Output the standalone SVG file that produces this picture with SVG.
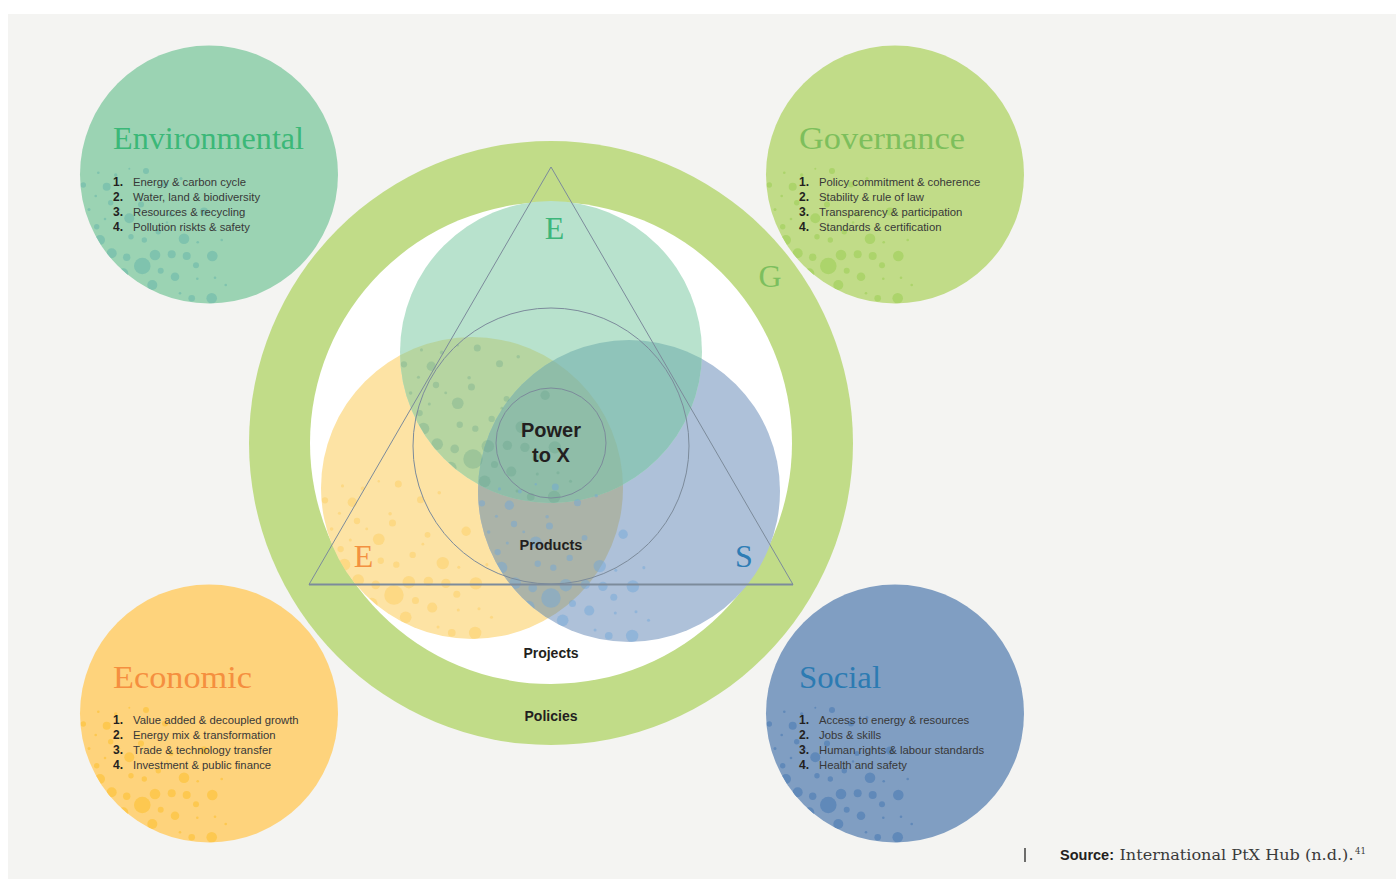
<svg xmlns="http://www.w3.org/2000/svg" xmlns:xlink="http://www.w3.org/1999/xlink" width="1396" height="879" viewBox="0 0 1396 879">
  <style>
    .title{font-family:"Liberation Serif","Times New Roman",serif;font-size:32px}
    .item{font-family:"Liberation Sans",Arial,sans-serif;font-size:11.3px;fill:#383838}
    .num{font-weight:bold;fill:#231f20;font-size:12px}
    .lbl{font-family:"Liberation Sans",Arial,sans-serif;font-weight:bold;fill:#231f20;text-anchor:middle}
    .letter{font-family:"Liberation Serif","Times New Roman",serif;font-size:32px;text-anchor:middle}
    .guide{fill:none;stroke:#7c8b9b;stroke-width:1}
  </style>
  <defs>
    <!-- bubble texture, laid out for a circle of radius 129 centred at the origin -->
    <g id="dots">
      <circle cx="-125.7" cy="10.5" r="2.7"/><circle cx="-102.3" cy="12.2" r="4"/>
      <circle cx="-110.7" cy="-1.8" r="1.3"/><circle cx="-79.7" cy="-5.8" r="1"/>
      <circle cx="-63" cy="-3.5" r="3"/><circle cx="-93.3" cy="0.5" r="1.7"/>
      <circle cx="-113.3" cy="21.5" r="1.3"/><circle cx="-98.3" cy="28.2" r="2.7"/>
      <circle cx="-79.7" cy="43.8" r="5"/><circle cx="-112.3" cy="52.2" r="2.7"/>
      <circle cx="-104" cy="44.5" r="1.3"/><circle cx="-109" cy="65.5" r="5"/>
      <circle cx="-78" cy="62.2" r="2.7"/><circle cx="-64.7" cy="65.5" r="2.7"/>
      <circle cx="-50.7" cy="57.2" r="2.7"/><circle cx="-25" cy="64.2" r="5.3"/>
      <circle cx="-11.3" cy="67.8" r="1.3"/><circle cx="12.7" cy="65.5" r="1.3"/>
      <circle cx="-97.3" cy="78.8" r="5"/><circle cx="-82.3" cy="82.8" r="3.7"/>
      <circle cx="-66.7" cy="91.5" r="8.3"/><circle cx="-54" cy="80.5" r="5.3"/>
      <circle cx="-37.3" cy="79.8" r="4"/><circle cx="-22.3" cy="81.5" r="4"/>
      <circle cx="3.3" cy="81.5" r="5.3"/><circle cx="-48.3" cy="96.2" r="3"/>
      <circle cx="-34" cy="102.2" r="4.3"/><circle cx="-13" cy="90.8" r="3"/>
      <circle cx="-85.7" cy="98.8" r="5"/><circle cx="-56.7" cy="110.5" r="5"/>
      <circle cx="-11.7" cy="104.2" r="1.3"/><circle cx="6" cy="103.2" r="1.3"/>
      <circle cx="16.7" cy="110.5" r="1.3"/><circle cx="-17.3" cy="123.8" r="3.3"/>
      <circle cx="2.7" cy="123.8" r="5.3"/><circle cx="-29" cy="118.8" r="1.3"/>
      <circle cx="-90" cy="35" r="1.2"/><circle cx="-70" cy="22" r="1.5"/>
      <circle cx="-42" cy="48" r="1.2"/><circle cx="-120" cy="35" r="1.5"/>
      <circle cx="-118" cy="85" r="2.5"/><circle cx="-72" cy="118" r="2"/>
      <circle cx="-5" cy="37" r="4"/><circle cx="-38" cy="40" r="2.5"/>
      <circle cx="-68" cy="30" r="3"/><circle cx="-44" cy="10" r="3"/>
      <circle cx="-28" cy="4" r="1.5"/>
    </g>
    <clipPath id="cEnv"><circle cx="209" cy="174.5" r="129"/></clipPath>
    <clipPath id="cGov"><circle cx="895" cy="174.5" r="129"/></clipPath>
    <clipPath id="cEco"><circle cx="209" cy="713.5" r="129"/></clipPath>
    <clipPath id="cSoc"><circle cx="895" cy="713.5" r="129"/></clipPath>
    <clipPath id="cG"><circle cx="551" cy="352" r="151"/></clipPath>
    <clipPath id="cY"><circle cx="472" cy="488" r="151"/></clipPath>
    <clipPath id="cB"><circle cx="629" cy="491" r="151"/></clipPath>
  </defs>

  <!-- page -->
  <rect x="0" y="0" width="1396" height="879" fill="#ffffff"/>
  <rect x="8" y="14" width="1388" height="865" fill="#f4f4f2"/>

  <!-- governance ring (policies) and project disc -->
  <g id="policies-ring">
    <circle cx="551" cy="443" r="302" fill="#c1dc88"/>
    <circle cx="551" cy="443" r="241" fill="#ffffff"/>
  </g>

  <!-- three pillars -->
  <g id="venn">
    <circle cx="472" cy="488" r="151" fill="#fde3a4"/>
    <circle cx="629" cy="491" r="151" fill="#aec1d9"/>
    <circle cx="551" cy="352" r="151" fill="#b8e2cd"/>
    <g clip-path="url(#cY)"><circle cx="629" cy="491" r="151" fill="#abb3a8"/></g>
    <g clip-path="url(#cY)"><circle cx="551" cy="352" r="151" fill="#b6d5a1"/></g>
    <g clip-path="url(#cB)"><circle cx="551" cy="352" r="151" fill="#8fc4ba"/></g>
    <g clip-path="url(#cY)"><g clip-path="url(#cB)"><circle cx="551" cy="352" r="151" fill="#8fbda8"/></g></g>
    <g clip-path="url(#cY)"><use xlink:href="#dots" href="#dots" transform="translate(472,488) scale(1.17)" fill="#fcc74a" fill-opacity="0.35"/></g>
    <g clip-path="url(#cG)"><use xlink:href="#dots" href="#dots" transform="translate(551,352) scale(1.17)" fill="#5f9f86" fill-opacity="0.28"/></g>
    <g clip-path="url(#cB)"><use xlink:href="#dots" href="#dots" transform="translate(629,491) scale(1.17)" fill="#6ea6da" fill-opacity="0.45"/></g>
  </g>

  <!-- guide lines: triangle and two rings -->
  <g id="guides">
    <path class="guide" d="M309,584.5 L551,167 L793,584.5"/>
    <line x1="309" y1="584.5" x2="793" y2="584.5" stroke="#7c8b9b" stroke-width="1.8"/>
    <circle class="guide" cx="551" cy="446" r="138"/>
    <circle class="guide" cx="551" cy="443" r="55"/>
  </g>

  <!-- centre labels -->
  <g id="centre-labels">
    <text class="lbl" x="551" y="437" font-size="20">Power</text>
    <text class="lbl" x="551" y="462" font-size="20">to X</text>
    <text class="lbl" x="551" y="550" font-size="14.5">Products</text>
    <text class="lbl" x="551" y="658" font-size="14">Projects</text>
    <text class="lbl" x="551" y="721" font-size="14">Policies</text>
    <text class="letter" x="554.5" y="239" fill="#3db67a">E</text>
    <text class="letter" x="363.5" y="567" fill="#f39140">E</text>
    <text class="letter" x="744" y="567" fill="#2f7db5">S</text>
    <text class="letter" x="770" y="287" fill="#7cbf5e">G</text>
  </g>

  <!-- Environmental -->
  <g id="environmental">
    <circle cx="209" cy="174.5" r="129" fill="#9bd3b3"/>
    <g clip-path="url(#cEnv)"><use xlink:href="#dots" href="#dots" transform="translate(209,174.5)" fill="#7fc3ae"/></g>
    <text class="title" x="113" y="149" fill="#3bb878" textLength="191" lengthAdjust="spacingAndGlyphs">Environmental</text>
    <text class="item" y="185.7"><tspan class="num" x="113">1.</tspan><tspan x="133">Energy &amp; carbon cycle</tspan></text>
    <text class="item" y="200.7"><tspan class="num" x="113">2.</tspan><tspan x="133">Water, land &amp; biodiversity</tspan></text>
    <text class="item" y="215.7"><tspan class="num" x="113">3.</tspan><tspan x="133">Resources &amp; recycling</tspan></text>
    <text class="item" y="230.7"><tspan class="num" x="113">4.</tspan><tspan x="133">Pollution riskts &amp; safety</tspan></text>
  </g>

  <!-- Governance -->
  <g id="governance">
    <circle cx="895" cy="174.5" r="129" fill="#c1dc88"/>
    <g clip-path="url(#cGov)"><use xlink:href="#dots" href="#dots" transform="translate(895,174.5)" fill="#acd46b"/></g>
    <text class="title" x="799" y="149" fill="#7dbf5c" textLength="166" lengthAdjust="spacingAndGlyphs">Governance</text>
    <text class="item" y="185.7"><tspan class="num" x="799">1.</tspan><tspan x="819">Policy commitment &amp; coherence</tspan></text>
    <text class="item" y="200.7"><tspan class="num" x="799">2.</tspan><tspan x="819">Stability &amp; rule of law</tspan></text>
    <text class="item" y="215.7"><tspan class="num" x="799">3.</tspan><tspan x="819">Transparency &amp; participation</tspan></text>
    <text class="item" y="230.7"><tspan class="num" x="799">4.</tspan><tspan x="819">Standards &amp; certification</tspan></text>
  </g>

  <!-- Economic -->
  <g id="economic">
    <circle cx="209" cy="713.5" r="129" fill="#fed37c"/>
    <g clip-path="url(#cEco)"><use xlink:href="#dots" href="#dots" transform="translate(209,713.5)" fill="#fdc850"/></g>
    <text class="title" x="113" y="688" fill="#f58f3f" textLength="139" lengthAdjust="spacingAndGlyphs">Economic</text>
    <text class="item" y="724"><tspan class="num" x="113">1.</tspan><tspan x="133">Value added &amp; decoupled growth</tspan></text>
    <text class="item" y="739"><tspan class="num" x="113">2.</tspan><tspan x="133">Energy mix &amp; transformation</tspan></text>
    <text class="item" y="754"><tspan class="num" x="113">3.</tspan><tspan x="133">Trade &amp; technology transfer</tspan></text>
    <text class="item" y="769"><tspan class="num" x="113">4.</tspan><tspan x="133">Investment &amp; public finance</tspan></text>
  </g>

  <!-- Social -->
  <g id="social">
    <circle cx="895" cy="713.5" r="129" fill="#809ec2"/>
    <g clip-path="url(#cSoc)"><use xlink:href="#dots" href="#dots" transform="translate(895,713.5)" fill="#6089b9"/></g>
    <text class="title" x="799" y="688" fill="#2c7bb2" textLength="82" lengthAdjust="spacingAndGlyphs">Social</text>
    <text class="item" y="724"><tspan class="num" x="799">1.</tspan><tspan x="819">Access to energy &amp; resources</tspan></text>
    <text class="item" y="739"><tspan class="num" x="799">2.</tspan><tspan x="819">Jobs &amp; skills</tspan></text>
    <text class="item" y="754"><tspan class="num" x="799">3.</tspan><tspan x="819">Human rights &amp; labour standards</tspan></text>
    <text class="item" y="769"><tspan class="num" x="799">4.</tspan><tspan x="819">Health and safety</tspan></text>
  </g>

  <!-- source line -->
  <g id="source">
    <line x1="1025" y1="848" x2="1025" y2="862" stroke="#333333" stroke-width="1.4"/>
    <text x="1060" y="860" font-family="'Liberation Sans',Arial,sans-serif" font-weight="bold" font-size="15" fill="#231f20" textLength="54" lengthAdjust="spacingAndGlyphs">Source:</text>
    <text x="1119.5" y="860" font-family="'DejaVu Serif','Liberation Serif',serif" font-size="15" fill="#3a3a3a" textLength="234" lengthAdjust="spacingAndGlyphs">International PtX Hub (n.d.).</text>
    <text x="1355" y="854" font-family="'DejaVu Serif','Liberation Serif',serif" font-size="8.5" fill="#3a3a3a">41</text>
  </g>
</svg>
